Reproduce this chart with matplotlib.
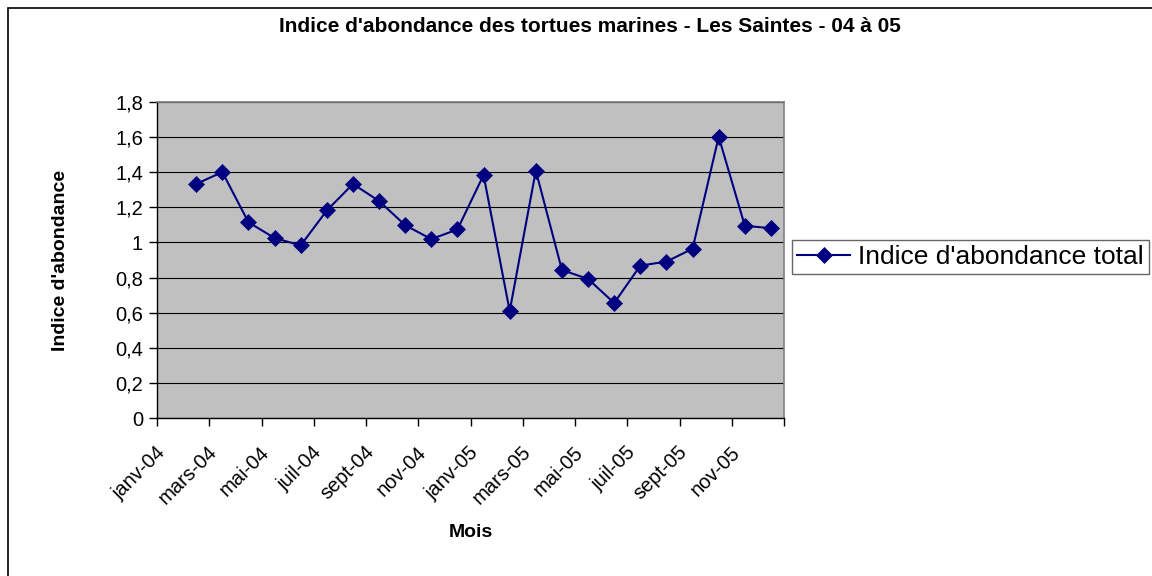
import matplotlib.pyplot as plt
import matplotlib.patches as patches
from matplotlib.transforms import ScaledTranslation
import numpy as np

# Données (févr-04 à déc-05)
mois = ['févr-04', 'mars-04', 'avr-04', 'mai-04', 'juin-04', 'juil-04', 'août-04',
        'sept-04', 'oct-04', 'nov-04', 'déc-04', 'janv-05', 'févr-05', 'mars-05',
        'avr-05', 'mai-05', 'juin-05', 'juil-05', 'août-05', 'sept-05', 'oct-05',
        'nov-05', 'déc-05']
indice = [1.333, 1.401, 1.115, 1.025, 0.983, 1.182, 1.333, 1.236, 1.098, 1.019,
          1.074, 1.384, 0.609, 1.409, 0.843, 0.792, 0.655, 0.868, 0.891, 0.964,
          1.602, 1.095, 1.081]
tick_labels = ['janv-04', 'mars-04', 'mai-04', 'juil-04', 'sept-04', 'nov-04',
               'janv-05', 'mars-05', 'mai-05', 'juil-05', 'sept-05', 'nov-05']

plt.rcParams['font.family'] = ['Liberation Sans', 'DejaVu Sans']

W, H = 1152, 576
fig = plt.figure(figsize=(W / 100, H / 100), dpi=100)
ax = fig.add_axes([157 / W, 1 - 418 / H, (784 - 157) / W, (418 - 102) / H])

# axe des mois : janv-04 = 0, chaque point au milieu de son mois
x = np.arange(len(mois)) + 1.5
ax.set_facecolor('#C0C0C0')
ax.plot(x, indice, color='#000080', lw=1.5, marker='D', markersize=8.5,
        markeredgewidth=0.5, label="Indice d'abondance total", zorder=3)

ax.set_xlim(0, 24)
ax.set_ylim(0, 1.8)
yt = np.arange(0, 1.81, 0.2)
ax.set_yticks(yt)
ax.set_yticklabels([f'{v:g}'.replace('.', ',') for v in np.round(yt, 1)])
ax.set_xticks(np.arange(0, 25, 2))
ax.set_xticklabels(tick_labels + [''], rotation=45, ha='right', va='center',
                   rotation_mode='anchor')
ax.tick_params(axis='both', labelsize=14.5, direction='out', length=6, width=1, pad=4)
ax.tick_params(axis='x', pad=10)
# décalage des étiquettes de mois comme dans Excel
shift = ScaledTranslation(5 / 100, -9 / 100, fig.dpi_scale_trans)
for lab in ax.get_xticklabels():
    lab.set_transform(lab.get_transform() + shift)

ax.yaxis.grid(True, color='black', lw=0.8)
ax.set_axisbelow(True)
for s in ['top', 'right']:
    ax.spines[s].set_color('#808080')
    ax.spines[s].set_linewidth(1.2)
for s in ['left', 'bottom']:
    ax.spines[s].set_color('black')
    ax.spines[s].set_linewidth(1)

ax.set_xlabel('Mois', fontsize=14, fontweight='bold', va='baseline')
ax.xaxis.set_label_coords(0.5, (418 - 537) / (418 - 102))
ax.set_ylabel("Indice d'abondance", fontsize=14, fontweight='bold', va='baseline')
ax.yaxis.set_label_coords((65 - 157) / (784 - 157), 0.5)

fig.text(590 / W, 1 - 32 / H, "Indice d'abondance des tortues marines - Les Saintes - 04 à 05",
         ha='center', va='baseline', fontsize=15, fontweight='bold')

leg = ax.legend(loc='center left', bbox_to_anchor=(792 / W, 1 - 257 / H),
                bbox_transform=fig.transFigure, fontsize=19, frameon=True,
                fancybox=False, borderpad=0.2, handlelength=2.0,
                handletextpad=0.3, borderaxespad=0)
leg.get_frame().set_edgecolor('#404040')
leg.get_frame().set_linewidth(1)

# cadre du graphique
fig.patches.append(patches.Rectangle((8 / W, -0.1), 1.2, 1.1 - 8 / H,
                                     transform=fig.transFigure, fill=False,
                                     edgecolor='black', lw=1.2))

fig.savefig('out.png', dpi=100)
